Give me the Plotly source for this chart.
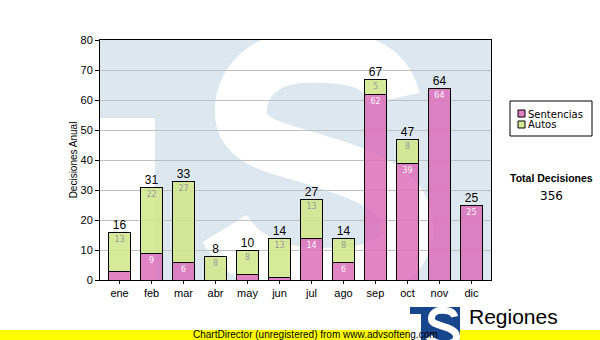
import plotly.graph_objects as go

# Monthly decisions, split by type
meses = ["ene", "feb", "mar", "abr", "may", "jun", "jul", "ago", "sep", "oct", "nov", "dic"]
sentencias = [3, 9, 6, 0, 2, 1, 14, 6, 62, 39, 64, 25]
autos = [13, 22, 27, 8, 8, 13, 13, 8, 5, 8, 0, 0]
totales = [s + a for s, a in zip(sentencias, autos)]
total_general = sum(totales)

W, H = 600, 340
ML, MR, MT, MB = 100, 109, 40, 60
PW, PH = W - ML - MR, H - MT - MB


def px_to_paper(x, y):
    return (x - ML) / PW, (H - MB - y) / PH


# Centre line of the "S" letter in a unit box (y grows downwards)
S_LINE = [
    (0.831, 0.257),
    (0.785, 0.081), (0.554, 0.088), (0.431, 0.088),
    (0.215, 0.088), (0.108, 0.189), (0.108, 0.311),
    (0.108, 0.446), (0.308, 0.459), (0.492, 0.514),
    (0.754, 0.581), (0.892, 0.649), (0.892, 0.784),
    (0.892, 0.932), (0.708, 0.973), (0.462, 0.966),
    (0.246, 0.962), (0.108, 0.892), (0.031, 0.784),
]


def s_path(x0, y0, x1, y1):
    pts = []
    for u, v in S_LINE:
        px, py = x0 + u * (x1 - x0), y0 + v * (y1 - y0)
        pts.append(px_to_paper(px, py))
    d = "M {:.4f},{:.4f}".format(*pts[0])
    for i in range(1, len(pts), 3):
        a, b, c = pts[i], pts[i + 1], pts[i + 2]
        d += " C {:.4f},{:.4f} {:.4f},{:.4f} {:.4f},{:.4f}".format(*a, *b, *c)
    return d


def rect_px(x0, y0, x1, y1, fill, layer="above", line=None):
    a0, b0 = px_to_paper(x0, y1)
    a1, b1 = px_to_paper(x1, y0)
    return dict(type="rect", xref="paper", yref="paper", x0=a0, x1=a1, y0=b0, y1=b1,
                fillcolor=fill, line=line or dict(width=0), layer=layer)


PINK = "rgba(218,110,185,0.85)"
GREEN = "rgba(208,230,135,0.85)"
PINK_KEY = "#de7fc2"
GREEN_KEY = "#d5ea98"
WATERMARK = "#dde7f0"
LOGO_BLUE = "#17468c"

fig = go.Figure()

fig.add_trace(go.Bar(
    x=meses, y=sentencias, name="Sentencias",
    marker=dict(color=PINK, line=dict(color="black", width=1)),
    text=[str(v) if v >= 5 else "" for v in sentencias],
    textposition="inside", insidetextanchor="end", textangle=0,
    textfont=dict(family="DejaVu Sans", size=8, color="#fff4fb"),
    hoverinfo="skip",
))
fig.add_trace(go.Bar(
    x=meses, y=autos, name="Autos",
    marker=dict(color=GREEN, line=dict(color="black", width=1)),
    text=[str(v) if v >= 5 else "" for v in autos],
    textposition="inside", insidetextanchor="end", textangle=0,
    textfont=dict(family="DejaVu Sans", size=8, color="#9a9a9a"),
    hoverinfo="skip",
))
fig.add_trace(go.Scatter(
    x=meses, y=totales, mode="text", text=[str(t) for t in totales],
    textposition="top center",
    textfont=dict(family="Liberation Sans", size=12, color="black"),
    showlegend=False, hoverinfo="skip", cliponaxis=False,
))

shapes = []
# Pale logo watermark behind the plot
shapes.append(dict(type="rect", xref="paper", yref="paper", x0=0, x1=1, y0=0, y1=1,
                   fillcolor=WATERMARK, line=dict(width=0), layer="below"))
shapes.append(rect_px(100, 118, 155, 280, "white", layer="below"))
shapes.append(dict(type="path", xref="paper", yref="paper", path=s_path(218, 35, 430, 282),
                   line=dict(color="white", width=52), layer="below"))

# Legend box with colour keys
shapes.append(rect_px(510, 101, 592, 136, "white", line=dict(color="black", width=1)))
shapes.append(rect_px(518, 110, 525, 117, PINK_KEY, line=dict(color="black", width=1)))
shapes.append(rect_px(518, 121, 525, 128, GREEN_KEY, line=dict(color="black", width=1)))

# Footer strip
shapes.append(rect_px(0, 330, 600, 340, "#ffff00"))

# Small logo
shapes.append(rect_px(410, 307, 460, 340, LOGO_BLUE))
shapes.append(rect_px(410, 314, 421, 340, "white"))
shapes.append(dict(type="path", xref="paper", yref="paper", path=s_path(428, 307, 460, 345),
                   line=dict(color="white", width=7), layer="above"))

annotations = []


def add_text(x, y, text, size, family="DejaVu Sans", bold=False, xanchor="center", color="black"):
    px, py = px_to_paper(x, y)
    annotations.append(dict(
        x=px, y=py, xref="paper", yref="paper", showarrow=False,
        text=f"<b>{text}</b>" if bold else text,
        font=dict(family=family, size=size, color=color),
        xanchor=xanchor, yanchor="middle",
    ))


add_text(526, 114, "Sentencias", 10, xanchor="left")
add_text(526, 125, "Autos", 10, xanchor="left")
add_text(551, 178, "Total Decisiones", 10.5, family="Liberation Sans", bold=True)
add_text(551, 196, str(total_general), 12)
add_text(467, 316, "Regiones", 21, family="Liberation Sans", xanchor="left")
add_text(191, 334, "ChartDirector (unregistered) from www.advsofteng.com", 10,
         family="Liberation Sans", xanchor="left")

fig.update_layout(
    width=W, height=H,
    margin=dict(l=ML, r=MR, t=MT, b=MB, autoexpand=False),
    paper_bgcolor="white", plot_bgcolor="rgba(0,0,0,0)",
    barmode="stack", bargap=0.295,
    font=dict(family="Liberation Sans", size=11, color="black"),
    showlegend=False,
    shapes=shapes,
    annotations=annotations,
    uniformtext=dict(mode="show", minsize=8),
)

fig.update_yaxes(
    range=[0, 80], dtick=10, showgrid=True, gridcolor="#c0c0c0", gridwidth=1,
    showline=True, linecolor="black", linewidth=1, mirror=True,
    ticks="outside", ticklen=4, tickcolor="black",
    tickfont=dict(family="Liberation Sans", size=11),
    title=dict(text="Decisiones Anual", font=dict(family="Liberation Sans", size=10), standoff=1),
    zeroline=False, layer="below traces",
)
fig.update_xaxes(
    showline=True, linecolor="black", linewidth=1, mirror=True,
    ticks="outside", ticklen=3, tickcolor="black",
    tickfont=dict(family="Liberation Sans", size=11),
    showgrid=False,
)

fig.write_html("out.html")
